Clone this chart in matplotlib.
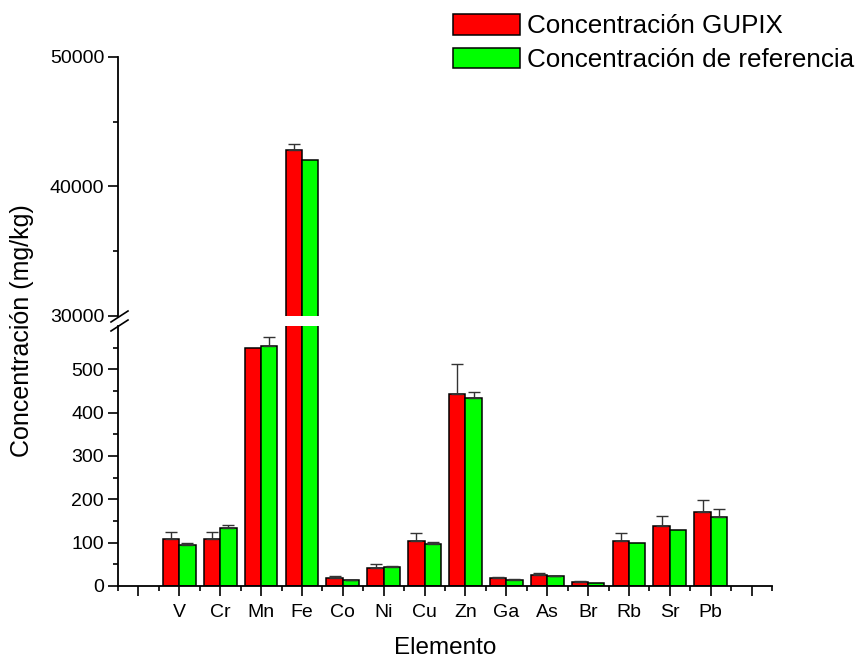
import matplotlib
matplotlib.use("Agg")
import matplotlib.pyplot as plt
from matplotlib.patches import Patch
from matplotlib.lines import Line2D
import numpy as np

plt.rcParams['font.family'] = ['Liberation Sans', 'DejaVu Sans']

elements = ["V", "Cr", "Mn", "Fe", "Co", "Ni", "Cu", "Zn", "Ga", "As", "Br", "Rb", "Sr", "Pb"]
gupix = [108, 108, 550, 42800, 19, 42, 105, 443, 19, 25, 10, 105, 139, 171]
gupix_err = [17, 17, 0, 450, 3, 9, 17, 69, 2, 4, 1.5, 17, 23, 27]
reference = [95, 134, 555, 42050, 14, 45, 98, 435, 15, 23, 6, 99, 129, 160]
reference_err = [4, 6, 19, 0, 1, 2, 4, 13, 1, 1, 0, 0, 0, 18]

W, H = 857, 658
fig = plt.figure(figsize=(W / 100, H / 100), dpi=100)

x0, x1 = 118, 772
ax_lo = fig.add_axes([x0 / W, 1 - 586 / H, (x1 - x0) / W, 260 / H])
ax_hi = fig.add_axes([x0 / W, 1 - 316 / H, (x1 - x0) / W, 259 / H])

pos = np.arange(1, len(elements) + 1)
bw = 0.4
red = "#FF0000"
green = "#00FF00"

for ax in (ax_lo, ax_hi):
    ax.bar(pos - bw / 2, gupix, bw, color=red, edgecolor="black", linewidth=1.1, zorder=2)
    ax.bar(pos + bw / 2, reference, bw, color=green, edgecolor="black", linewidth=1.1, zorder=2)
    for xs, vals, errs in ((pos - bw / 2, gupix, gupix_err), (pos + bw / 2, reference, reference_err)):
        for xi, v, e in zip(xs, vals, errs):
            if e > 0:
                ax.errorbar([xi], [v], yerr=[[0], [e]], fmt="none", ecolor="#333333",
                            elinewidth=1.0, capsize=4, capthick=1.0, zorder=3)
    ax.set_xlim(-0.5, 15.5)
    ax.spines['top'].set_visible(False)
    ax.spines['right'].set_visible(False)
    ax.spines['left'].set_linewidth(1.3)
    ax.spines['bottom'].set_linewidth(1.3)
    ax.tick_params(axis='y', which='major', direction='out', length=7, width=1.2, labelsize=14, pad=3)
    ax.tick_params(axis='y', which='minor', direction='out', length=3.6, width=1.2)

ax_lo.set_ylim(0, 600)
ax_lo.set_yticks([0, 100, 200, 300, 400, 500])
ax_lo.set_yticks([50, 150, 250, 350, 450, 550], minor=True)
ax_lo.set_xticks(np.arange(0, 16))
ax_lo.set_xticklabels([""] + elements + [""])
ax_lo.set_xticks(np.arange(-0.5, 16, 1.0), minor=True)
ax_lo.tick_params(axis='x', which='major', direction='out', length=7, width=1.2, labelsize=14, pad=6)
ax_lo.tick_params(axis='x', which='minor', direction='out', length=3.6, width=1.2)

ax_hi.set_ylim(30000, 50000)
ax_hi.set_yticks([30000, 40000, 50000])
ax_hi.set_yticks([35000, 45000], minor=True)
ax_hi.spines['bottom'].set_visible(False)
ax_hi.tick_params(axis='x', which='both', bottom=False, labelbottom=False)
ax_hi.patch.set_alpha(0)

# break marks on the y axis
for yy in (316, 325):
    fig.add_artist(Line2D([111 / W, 128 / W], [1 - (yy + 6) / H, 1 - (yy - 5) / H],
                          color="black", linewidth=1.2))

fig.text(445 / W, 1 - 648 / H, "Elemento", ha="center", va="center", fontsize=17.5)
fig.text(22 / W, 1 - 331 / H, "Concentración (mg/kg)", ha="center", va="center",
         rotation=90, fontsize=18)

handles = [Patch(facecolor=red, edgecolor="black", linewidth=1.1),
           Patch(facecolor=green, edgecolor="black", linewidth=1.1)]
fig.legend(handles, ["Concentración GUPIX", "Concentración de referencia"],
           loc="upper left", bbox_to_anchor=(453 / W, 1 - 14 / H), frameon=False,
           fontsize=18.7, handlelength=2.58, handleheight=0.85, handletextpad=0.27,
           labelspacing=0.36, borderpad=0, borderaxespad=0)

fig.savefig("out.png", dpi=100)
